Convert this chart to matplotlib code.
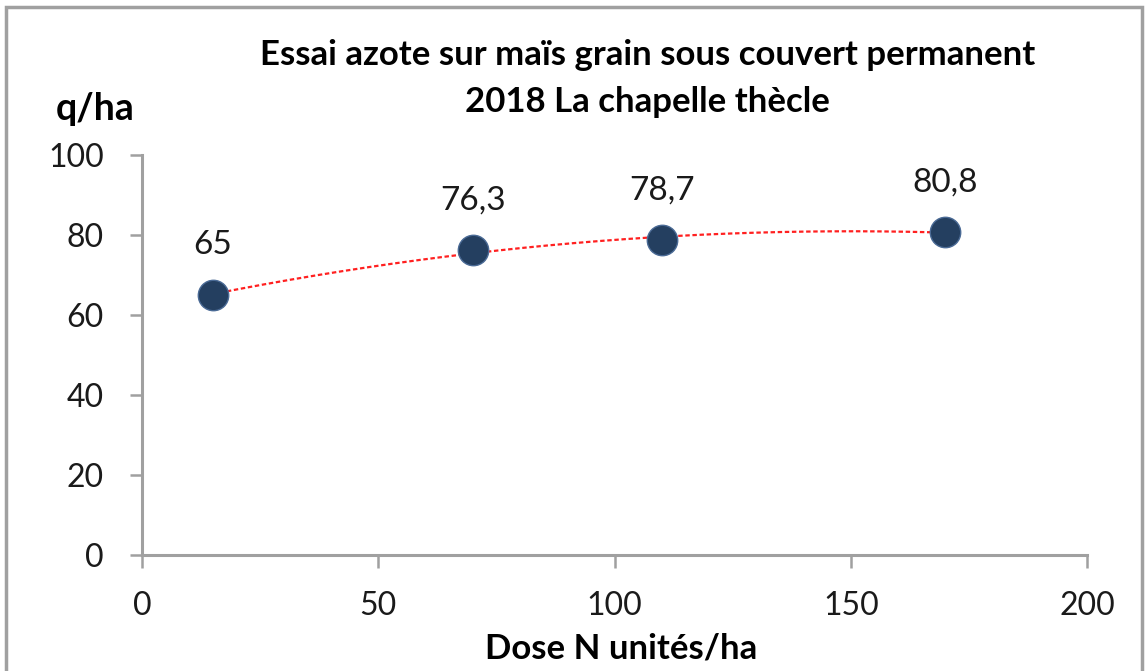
import numpy as np
import matplotlib
matplotlib.use("Agg")
import matplotlib.pyplot as plt
from matplotlib.patches import Rectangle

# ── data ──────────────────────────────────────────────
dose = [15, 70, 110, 170]
rendement = [65, 76.3, 78.7, 80.8]
labels = ["65", "76,3", "78,7", "80,8"]
x_ticks = [0, 50, 100, 150, 200]
y_ticks = [0, 20, 40, 60, 80, 100]

plt.rcParams["font.family"] = ["Lato", "DejaVu Sans"]

fig = plt.figure(figsize=(11.48, 6.71), dpi=100)
ax = fig.add_axes([0.1237, 0.1729, 0.8232, 0.5961])

# polynomial trendline (order 2), like the Excel one
coef = np.polyfit(dose, rendement, 2)
xs = np.linspace(min(dose), max(dose), 200)
ax.plot(xs, np.polyval(coef, xs), color="#ff2020", lw=1.6, ls=(0, (2, 1.2)), zorder=2)

ax.scatter(dose, rendement, s=480, color="#243f60", edgecolor="#4a6a95",
           linewidth=1.0, zorder=3)
for x, y, t in zip(dose, rendement, labels):
    ax.annotate(t, (x, y), xytext=(0, 25), textcoords="offset points",
                ha="center", va="bottom", fontsize=24, color="#1a1a1a")

ax.set_xlim(0, 200)
ax.set_ylim(0, 100)
ax.set_xticks(x_ticks)
ax.set_yticks(y_ticks)
ax.tick_params(axis="both", labelsize=23, colors="#a0a0a0", labelcolor="#1a1a1a",
               direction="out", width=1.8)
ax.tick_params(axis="x", length=9, pad=17)
ax.tick_params(axis="y", length=8.5, pad=19)
for s in ["top", "right"]:
    ax.spines[s].set_visible(False)
for s in ["left", "bottom"]:
    ax.spines[s].set_color("#a0a0a0")
    ax.spines[s].set_linewidth(2.2)

fig.text(0.564, 0.918, "Essai azote sur maïs grain sous couvert permanent",
         ha="center", va="center", fontsize=25, fontweight="bold")
fig.text(0.564, 0.848, "2018 La chapelle thècle",
         ha="center", va="center", fontsize=25, fontweight="bold")
fig.text(0.083, 0.838, "q/ha", ha="center", va="center", fontsize=27, fontweight="bold")
fig.text(0.541, 0.034, "Dose N unités/ha", ha="center", va="center",
         fontsize=25, fontweight="bold")

# frame around the chart area
fig.patches.append(Rectangle((0.005, -0.02), 0.99, 1.01, transform=fig.transFigure,
                             fill=False, edgecolor="#a0a0a0", linewidth=2.5))

fig.savefig("out.png", dpi=100)
